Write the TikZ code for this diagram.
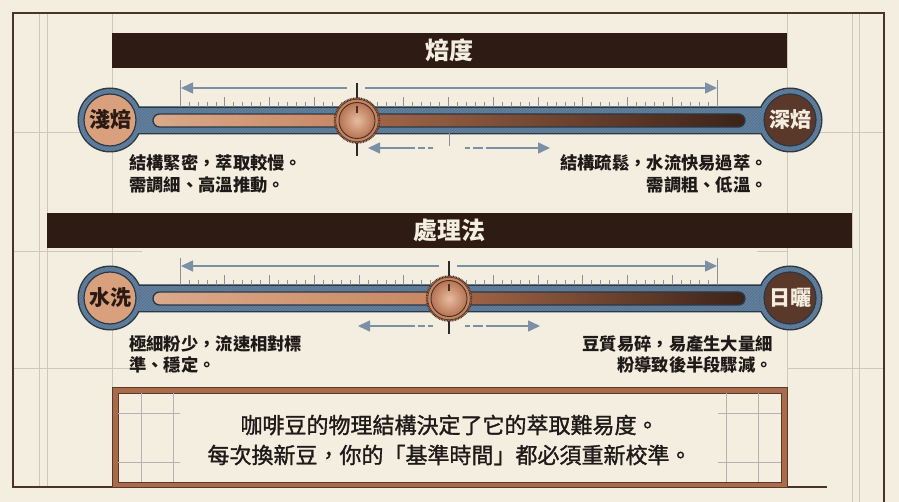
\documentclass[tikz,border=0pt]{standalone}
\usepackage{fontspec}
\setmainfont{Noto Sans CJK TC}
\newfontfamily\medcjk{Noto Sans CJK TC}[FakeBold=1.3]
\usetikzlibrary{arrows.meta,patterns}
\definecolor{bg}{HTML}{F4EEE1}
\definecolor{guidec}{HTML}{CFC7B8}
\definecolor{framec}{HTML}{4A3427}
\definecolor{titlebg}{HTML}{2E1B14}
\definecolor{titletx}{HTML}{F4EEE1}
\definecolor{trackblue}{HTML}{6482A0}
\definecolor{trackhatch}{HTML}{516E8A}
\definecolor{trackedge}{HTML}{2B3845}
\definecolor{tanc}{HTML}{D8A07D}
\definecolor{darkbr}{HTML}{5A392A}
\definecolor{labdark}{HTML}{2B1A12}
\definecolor{arrc}{HTML}{7B90A5}
\definecolor{tickc}{HTML}{8391A0}
\definecolor{crossc}{HTML}{2A2A2A}
\definecolor{copA}{HTML}{DAAA8A}
\definecolor{copB}{HTML}{C68562}
\definecolor{copC}{HTML}{A4684A}
\definecolor{copD}{HTML}{3C2318}
\definecolor{knobfill}{HTML}{C28463}
\definecolor{knobedge}{HTML}{4A2F20}
\definecolor{knobA}{HTML}{E8BC9F}
\definecolor{knobB}{HTML}{B57454}
\definecolor{boxcop}{HTML}{A86B4C}
\definecolor{boxedge}{HTML}{5C3828}
\definecolor{textc}{HTML}{1E1A18}
\tikzset{
  guide/.style={draw=guidec,line width=0.7pt},
  frameline/.style={draw=framec,line width=1.6pt},
  titlebar/.style={fill=titlebg,text=titletx,minimum height=35pt,inner sep=0pt,font=\fontsize{24}{28}\selectfont\bfseries},
  lcirc/.style={circle,fill=tanc,draw=trackedge,line width=1.2pt,minimum size=52pt,inner sep=0pt,text=labdark,font=\fontsize{21}{24}\selectfont\bfseries},
  rcirc/.style={circle,fill=darkbr,draw=trackedge,line width=1.2pt,minimum size=52pt,inner sep=0pt,text=titletx,font=\fontsize{21}{24}\selectfont\bfseries},
  arrline/.style={draw=arrc,line width=1.5pt},
  arr/.style={arrline,-{Triangle[length=12pt,width=11pt]}},
  tickmaj/.style={draw=tickc,line width=0.9pt},
  tickmin/.style={draw=tickc,line width=0.6pt},
  crossl/.style={draw=crossc,line width=1.6pt},
  knob/.style={circle,minimum size=45pt,inner sep=0pt,fill=knobfill,draw=knobedge,line width=1.5pt,dash pattern=on 0.8pt off 0.8pt},
  desc/.style={text=textc,inner sep=0pt,font=\fontsize{17.3}{21.5}\selectfont\bfseries},
  boxtext/.style={text=textc,inner sep=0pt,align=center,font=\fontsize{22}{30}\selectfont\medcjk},
}
\newcommand\mySlider[7]{%
\begin{scope}[yshift=-#1pt]
  \draw[trackedge,line width=3pt] (110,120) circle (31) (790,120) circle (31) (130,108) rectangle (770,133);
  \fill[trackblue] (110,120) circle (31);
  \fill[trackblue] (790,120) circle (31);
  \fill[trackblue] (130,108) rectangle (770,133);
  \path[pattern=north east lines,pattern color=trackhatch] (110,120) circle (31);
  \path[pattern=north east lines,pattern color=trackhatch] (790,120) circle (31);
  \path[pattern=north east lines,pattern color=trackhatch] (139,108.6) rectangle (761,132.4);
  \node[lcirc] (#7l) at (110,120) {#3};
  \node[rcirc] (#7r) at (790,120) {#4};
  \begin{scope}
    \clip[rounded corners=6.5pt] (153,114) rectangle (745,127);
    \shade[left color=copA,right color=copB] (153,114) rectangle (#2,127);
    \shade[left color=copC,right color=copD] (#2,114) rectangle (745,127);
  \end{scope}
  \draw[trackedge,line width=1.3pt,rounded corners=6.5pt] (153,114) rectangle (745,127);
  \foreach \i in {0,...,60}{%
    \pgfmathsetmacro\tx{180+\i*8.95}%
    \pgfmathtruncatemacro\mm{mod(\i,5)}%
    \ifnum\mm=0 \draw[tickmaj] (\tx,97) -- (\tx,107);\else \draw[tickmin] (\tx,102) -- (\tx,107);\fi
  }
  \draw[tickmin] (180,80) -- (180,107);
  \draw[tickmin] (717,80) -- (717,107);
  \draw[arr] (#2-10,88) -- (181,88);
  \draw[arr] (#2+8,88) -- (717,88);
  \draw[tickmaj] (449,133) -- (449,146);
  \draw[arrline] (433,148) -- (428,148) (425,148) -- (418,148);
  \draw[arr] (415,148) -- (#5,148);
  \draw[arrline] (465,148) -- (470,148) (473,148) -- (483,148);
  \draw[arr] (486,148) -- (#6,148);
  \draw[crossl] (#2,83) -- (#2,156);
  \node[knob] (#7k) at (#2,120.5) {};
  \draw[knobedge,line width=0.6pt] (#7k.center) circle (21.3);
  \shade[inner color=knobA,outer color=knobB] (#7k.center) circle (18);
  \draw[knobedge,line width=0.9pt] (#7k.center) circle (18);
  \draw[knobedge,line width=1.6pt] ([yshift=14pt]#7k.center) -- ([yshift=7pt]#7k.center);
\end{scope}}
\begin{document}
\begin{tikzpicture}[x=1pt,y=-1pt]
\useasboundingbox (0,0) rectangle (899,502);
\fill[bg] (0,0) rectangle (899,502);
% guide lines
\draw[guide] (39,13) -- (39,487);
\draw[guide] (47,13) -- (47,487);
\draw[guide] (112,13) -- (112,387);
\draw[guide] (787,13) -- (787,387);
\draw[guide] (852,13) -- (852,502);
\draw[guide] (859,13) -- (859,502);
\draw[guide] (13,132) -- (80,132);
\draw[guide] (820,132) -- (884,132);
\draw[guide] (13,251) -- (142,251);
\draw[guide] (757,251) -- (787,251);
\draw[guide] (13,368) -- (130,368);
\draw[guide] (787,368) -- (884,368);
% frame
\draw[frameline] (827,487) -- (13,487) -- (13,13) -- (884,13) -- (884,502);
% titles
\node[titlebar,minimum width=675pt] (t1) at (449.5,50.5) {焙度};
\node[titlebar,minimum width=805pt] (t2) at (449.5,230.5) {處理法};
% sliders
\mySlider{0}{357}{淺焙}{深焙}{368}{550}{sa}
\mySlider{178}{449}{水洗}{日曬}{358}{540}{sb}
% descriptions
\node[desc,anchor=west,align=left] (d1) at (129,174) {結構緊密，萃取較慢。\\需調細、高溫推動。};
\node[desc,anchor=east,align=right] (d2) at (768,174) {結構疏鬆，水流快易過萃。\\需調粗、低溫。};
\node[desc,anchor=west,align=left] (d3) at (129,354.5) {極細粉少，流速相對標\\準、穩定。};
\node[desc,anchor=east,align=right] (d4) at (773,354.5) {豆質易碎，易產生大量細\\粉導致後半段驟減。};
% bottom box
\node[draw=boxedge,line width=0.8pt,fill=boxcop,minimum width=675pt,minimum height=100pt,inner sep=0pt] (box) at (449.5,437) {};
\node[draw=boxedge,line width=0.7pt,fill=bg,minimum width=663pt,minimum height=89pt,inner sep=0pt] (boxin) at (449.5,437.5) {};
\draw[guide,draw=gray!60] (141,393) -- (141,482) (173,393) -- (173,482) (118,413) -- (180,413) (118,462) -- (180,462);
\draw[guide,draw=gray!60] (726,393) -- (726,482) (758,393) -- (758,482) (718,413) -- (781,413) (718,462) -- (781,462);
\node[boxtext] (msg) at (449.5,440) {咖啡豆的物理結構決定了它的萃取難易度。\\每次換新豆，你的「基準時間」都必須重新校準。};
\end{tikzpicture}
\end{document}
